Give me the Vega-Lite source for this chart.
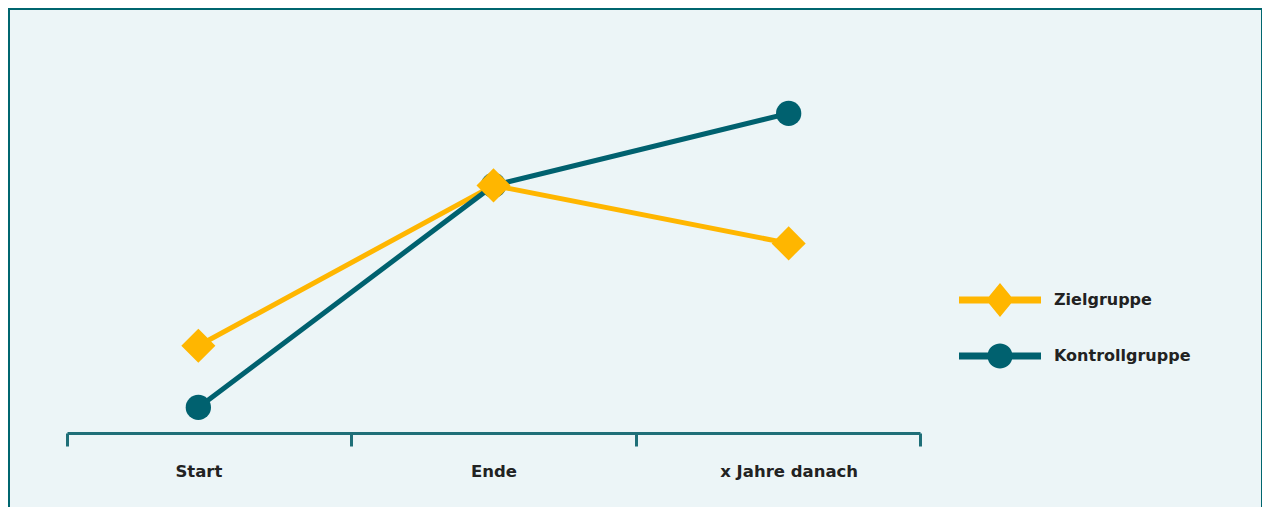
{
  "$schema": "https://vega.github.io/schema/vega-lite/v6.json",
  "autosize": {"type": "none"},
  "width": 1253,
  "height": 500,
  "padding": {"left": 9, "top": 9, "right": 0, "bottom": -2},
  "background": "#ffffff",
  "config": {
    "view": {"fill": "#ECF5F7", "stroke": "#00666F", "strokeWidth": 2},
    "font": "DejaVu Sans"
  },
  "data": {
    "values": [
      {"zeitpunkt": "Start", "gruppe": "Zielgruppe", "wert": 21.8},
      {"zeitpunkt": "Ende", "gruppe": "Zielgruppe", "wert": 61.9},
      {"zeitpunkt": "x Jahre danach", "gruppe": "Zielgruppe", "wert": 47.4},
      {"zeitpunkt": "Start", "gruppe": "Kontrollgruppe", "wert": 6.4},
      {"zeitpunkt": "Ende", "gruppe": "Kontrollgruppe", "wert": 61.9},
      {"zeitpunkt": "x Jahre danach", "gruppe": "Kontrollgruppe", "wert": 79.9}
    ]
  },
  "layer": [
    {
      "mark": {"type": "point", "filled": true, "opacity": 0},
      "encoding": {
        "x": {
          "field": "zeitpunkt", "type": "nominal",
          "sort": ["Start", "Ende", "x Jahre danach"],
          "scale": {"type": "band", "range": [58, 911], "paddingInner": 0, "paddingOuter": 0},
          "axis": {
            "orient": "bottom", "offset": -76, "title": null, "grid": false,
            "labels": false, "domain": true, "ticks": true, "tickBand": "extent",
            "domainColor": "#1F6F78", "domainWidth": 3,
            "tickColor": "#1F6F78", "tickWidth": 3, "tickSize": 13
          }
        },
        "y": {
          "field": "wert", "type": "quantitative",
          "scale": {"domain": [-19, 106], "nice": false, "zero": false},
          "axis": null
        },
        "color": {
          "field": "gruppe", "type": "nominal",
          "scale": {"domain": ["Zielgruppe", "Kontrollgruppe"], "range": ["#FFB600", "#00616F"]},
          "legend": {
            "title": null, "orient": "none", "legendX": 950, "legendY": 271,
            "direction": "vertical", "clipHeight": 40,
            "symbolSize": 6724, "symbolOpacity": 1, "symbolStrokeWidth": 0,
            "labelFont": "DejaVu Sans", "labelFontSize": 16, "labelFontWeight": "bold",
            "labelColor": "#222222", "labelOffset": 13, "rowPadding": 16
          }
        },
        "shape": {
          "field": "gruppe", "type": "nominal",
          "scale": {
            "domain": ["Zielgruppe", "Kontrollgruppe"],
            "range": [
              "M-1,-0.085L-0.27,-0.085L0,-0.415L0.27,-0.085L1,-0.085L1,0.085L0.27,0.085L0,0.415L-0.27,0.085L-1,0.085Z",
              "M-1,-0.085L-0.293,-0.085A0.305,0.305 0 0,1 0.293,-0.085L1,-0.085L1,0.085L0.293,0.085A0.305,0.305 0 0,1 -0.293,0.085L-1,0.085Z"
            ]
          },
          "legend": {
            "title": null, "orient": "none", "legendX": 950, "legendY": 271,
            "direction": "vertical", "clipHeight": 40,
            "symbolSize": 6724, "symbolOpacity": 1, "symbolStrokeWidth": 0,
            "labelFont": "DejaVu Sans", "labelFontSize": 16, "labelFontWeight": "bold",
            "labelColor": "#222222", "labelOffset": 13, "rowPadding": 16
          }
        }
      }
    },
    {
      "encoding": {
        "x": {
          "field": "zeitpunkt", "type": "nominal",
          "sort": ["Start", "Ende", "x Jahre danach"],
          "scale": {"type": "point", "range": [58, 911], "padding": 0.445},
          "axis": {
            "orient": "bottom", "offset": -76, "title": null, "grid": false,
            "domain": false, "ticks": false, "tickSize": 0, "labelAngle": 0,
            "labelPadding": 30, "labelFont": "DejaVu Sans",
            "labelFontSize": 16.5, "labelFontWeight": "bold", "labelColor": "#222222"
          }
        },
        "y": {
          "field": "wert", "type": "quantitative",
          "scale": {"domain": [-19, 106], "nice": false, "zero": false},
          "axis": null
        },
        "color": {
          "field": "gruppe", "type": "nominal",
          "scale": {"domain": ["Zielgruppe", "Kontrollgruppe"], "range": ["#FFB600", "#00616F"]},
          "legend": null
        }
      },
      "layer": [
        {"mark": {"type": "line", "strokeWidth": 5}},
        {
          "mark": {"type": "point", "filled": true, "opacity": 1},
          "encoding": {
            "order": {"field": "gruppe", "sort": "ascending"},
            "shape": {
              "field": "gruppe", "type": "nominal",
              "scale": {"domain": ["Zielgruppe", "Kontrollgruppe"], "range": ["diamond", "circle"]},
              "legend": null
            },
            "size": {
              "field": "gruppe", "type": "nominal",
              "scale": {"domain": ["Zielgruppe", "Kontrollgruppe"], "range": [1160, 640]},
              "legend": null
            }
          }
        }
      ]
    }
  ],
  "resolve": {
    "scale": {"x": "independent", "color": "independent", "shape": "independent"},
    "axis": {"x": "independent"}
  }
}
